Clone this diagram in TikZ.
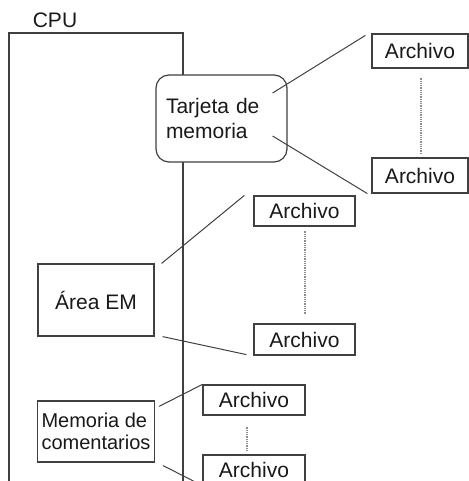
\documentclass[tikz,border=0pt]{standalone}
\usepackage{fontspec}
\setmainfont{Liberation Sans}
\usepackage{tikz}
\usetikzlibrary{calc,positioning}
\definecolor{linegray}{gray}{0.25}
\definecolor{dotgray}{gray}{0.55}

\begin{document}
\begin{tikzpicture}[
    x=0.5pt, y=-0.5pt,
    every node/.style={font=\fontsize{10.5}{12.5}\selectfont, text=black!90},
    box/.style={draw=linegray, line width=0.6pt, fill=white, inner sep=0pt, align=center},
    archivo/.style={box, minimum width=50.5pt, minimum height=15pt},
    link/.style={draw=linegray, line width=0.5pt},
    dots/.style={draw=dotgray, line width=0.6pt, dash pattern=on 0.4pt off 0.5pt}
]
\clip (0,0) rectangle (469,481);
\node (cpulabel) at (55,20) {CPU};
\draw[draw=linegray, line width=0.6pt] (9,490) -- (9,33) -- (183,33) -- (183,490);

\node[box, rounded corners=6.5pt, minimum height=43.5pt, text width=55.5pt, inner xsep=5pt, align=left] (tarjeta) at (221.5,118.5) {Tarjeta de\\memoria};
\node[box, minimum width=58pt, minimum height=36pt] (area) at (96,300) {Área EM};
\node[box, minimum width=58pt, minimum height=30.5pt, inner xsep=2pt, align=left, font=\fontsize{10}{11}\selectfont] (memoria) at (96,431.5) {Memoria de\\comentarios};

\node[archivo, minimum width=48pt, minimum height=17pt] (r1) at (420,51) {Archivo};
\node[archivo, minimum width=48pt, minimum height=17.5pt] (r2) at (420,175.5) {Archivo};
\node[archivo] (m1) at (304.5,211) {Archivo};
\node[archivo, minimum height=15.5pt] (m2) at (304.5,339.5) {Archivo};
\node[archivo, minimum width=51pt] (l1) at (254,400) {Archivo};
\node[archivo, minimum width=51pt] (l2) at (254,470) {Archivo};

\draw[link] ($(tarjeta.east)+(-15,-25.5)$) -- ($(r1.north west)+(-6,2)$);
\draw[link] ($(tarjeta.east)+(-15,17.5)$) -- ($(r2.south west)+(-4,0)$);
\draw[link] ($(area.north east)+(7,0)$) -- ($(m1.north west)+(-9,0)$);
\draw[link] ($(area.south east)+(8,0)$) -- ($(m2.south west)+(-7,-1)$);
\draw[link] ($(memoria.north east)+(4,6)$) -- (l1.north west);
\draw[link] ($(memoria.south east)+(8,3)$) -- (l2.south west);

\draw[dots] ($(r1.south)+(1,9)$) -- ($(r2.north)+(1,-4)$);
\draw[dots] ($(m1.south)+(0.5,4)$) -- ($(m2.north)+(0.5,-9)$);
\draw[dots] ($(l1.south)+(-7,11)$) -- ($(l2.north)+(-7,-3)$);
\end{tikzpicture}
\end{document}
